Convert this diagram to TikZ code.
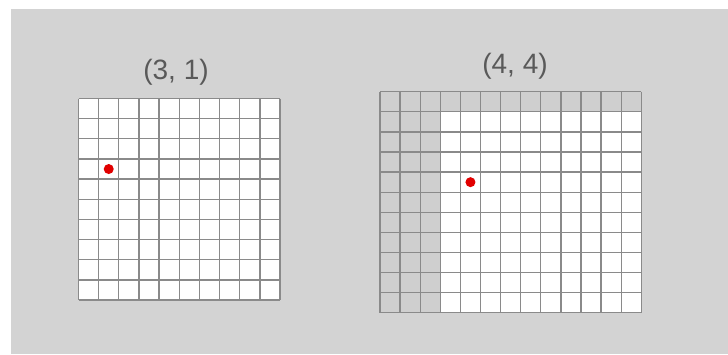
\documentclass[tikz,border=0pt]{standalone}
\usepackage{fontspec}
\setmainfont{Liberation Sans}
\usepackage{xcolor}
\usetikzlibrary{positioning, backgrounds, calc}

\definecolor{bggray}{HTML}{D3D3D3}
\definecolor{padgray}{HTML}{CFCFCF}
\definecolor{linegray}{HTML}{8A8A8A}
\definecolor{labelgray}{HTML}{595959}
\definecolor{dotred}{HTML}{E10000}

\tikzset{
  gridline/.style={draw=linegray, line width=1.3pt},
  reddot/.style={circle, fill=dotred, inner sep=0pt, minimum size=10pt},
  title/.style={font=\fontsize{28}{32}\selectfont, text=labelgray, inner sep=0pt}
}

\begin{document}
\begin{tikzpicture}
  [x=1pt,y=-1pt]
  \useasboundingbox (0,0) rectangle (728,354);
  \fill[white] (0,0) rectangle (728,354);
  \fill[bggray] (11,9) rectangle (728,354);

  % left image, 10 x 10
  \node[title] (lefttitle) at (176,72) {(3, 1)};
  \begin{scope}[shift={(78.5,98.5)}, x=20.15pt, y=-20.15pt]
    \fill[white] (0,0) rectangle (10,10);
    \foreach \i in {0,...,10} {
      \draw[gridline] (\i,0) -- (\i,10);
      \draw[gridline] (0,\i) -- (10,\i);
    }
    \node[reddot] (leftdot) at (1.5,3.5) {};
  \end{scope}

  % right image, 13 x 11 with padding
  \node[title] (righttitle) at (515,66) {(4, 4)};
  \begin{scope}[shift={(380,91.7)}, x=20.1pt, y=-20.1pt]
    \fill[white] (0,0) rectangle (13,11);
    \fill[padgray] (0,0) rectangle (13,1);
    \fill[padgray] (0,0) rectangle (3,11);
    \foreach \i in {0,...,13}
      \draw[gridline] (\i,0) -- (\i,11);
    \foreach \j in {0,...,11}
      \draw[gridline] (0,\j) -- (13,\j);
    \node[reddot] (rightdot) at (4.5,4.5) {};
  \end{scope}

\end{tikzpicture}
\end{document}
